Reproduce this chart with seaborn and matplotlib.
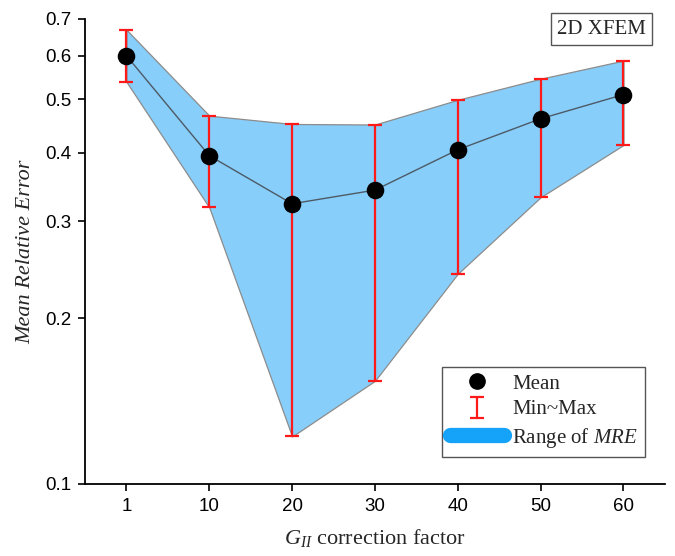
import numpy as np
import pandas as pd
import matplotlib
matplotlib.use('Agg')
import matplotlib.pyplot as plt
import seaborn as sns
from matplotlib.lines import Line2D

# values
factors = ['1', '10', '20', '30', '40', '50', '60']
mre_mean = [0.600, 0.395, 0.323, 0.342, 0.405, 0.461, 0.510]
mre_max = [0.669, 0.467, 0.451, 0.450, 0.499, 0.545, 0.588]
mre_min = [0.538, 0.318, 0.122, 0.154, 0.241, 0.332, 0.413]
y_ticks = [0.1, 0.2, 0.3, 0.4, 0.5, 0.6, 0.7]

df = pd.DataFrame({'factor': factors, 'mean': mre_mean,
                   'max': mre_max, 'min': mre_min})
df['pos'] = np.arange(len(df))

sns.set_style('ticks')
plt.rcParams['font.family'] = ['Liberation Sans', 'DejaVu Sans']
plt.rcParams['mathtext.fontset'] = 'custom'
plt.rcParams['mathtext.rm'] = 'Liberation Serif'
plt.rcParams['mathtext.it'] = 'Liberation Serif:italic'

serif = ['Liberation Serif', 'DejaVu Serif']

fig = plt.figure(figsize=(6.75, 5.56), dpi=100)
ax = fig.add_axes([0.126, 0.1295, 0.859, 0.8365])

# shaded min-max range
ax.fill_between(df['pos'], df['min'], df['max'], facecolor='#87CEFA',
                edgecolor='#8c8c8c', linewidth=0.9, zorder=1)

# mean line
sns.lineplot(data=df, x='pos', y='mean', color='#4d5a66', linewidth=1.0,
             ax=ax, zorder=2)

# min~max error bars
lower = df['mean'] - df['min']
upper = df['max'] - df['mean']
eb = ax.errorbar(df['pos'], df['mean'], yerr=[lower, upper], fmt='none',
                 ecolor='#ff1a1a', elinewidth=1.6, capsize=5, capthick=1.6,
                 zorder=3)

# mean markers
sns.scatterplot(data=df, x='pos', y='mean', color='black', s=160,
                edgecolor='black', linewidth=0, ax=ax, zorder=4)

ax.set_yscale('log')
ax.set_ylim(0.1, 0.7)
ax.set_xlim(-0.5, 6.5)
ax.set_yticks(y_ticks)
ax.set_yticklabels([f'{t:.1f}' for t in y_ticks])
ax.yaxis.set_minor_locator(matplotlib.ticker.NullLocator())
ax.set_xticks(df['pos'])
ax.set_xticklabels(factors)
ax.tick_params(axis='both', direction='out', length=5, width=1.2,
               labelsize=13.5, color='black', labelcolor='black', pad=5)

for side in ['top', 'right']:
    ax.spines[side].set_visible(False)
for side in ['left', 'bottom']:
    ax.spines[side].set_linewidth(1.3)
    ax.spines[side].set_color('black')

ax.set_xlabel(r'$G_{II}$ correction factor', family=serif, fontsize=16,
              labelpad=9)
ax.set_ylabel('Mean Relative Error', family=serif, style='italic',
              fontsize=16, labelpad=7)

ax.text(0.891, 0.978, '2D XFEM', transform=ax.transAxes, ha='center',
        va='center', family=serif, fontsize=15,
        bbox=dict(boxstyle='square,pad=0.3', facecolor='white',
                  edgecolor='#555555', linewidth=1.0))

# legend
h_mean = Line2D([], [], marker='o', color='black', linestyle='none',
                markersize=11)
h_range = Line2D([], [], color='#14A3F9', linewidth=11,
                 solid_capstyle='round')
leg = ax.legend([h_mean, eb, h_range],
                ['Mean', 'Min~Max', 'Range of $\\mathit{MRE}$'],
                loc='lower right', bbox_to_anchor=(0.966, 0.058),
                borderaxespad=0, fancybox=False, framealpha=1,
                edgecolor='#555555', prop={'family': serif, 'size': 15},
                handlelength=2.6, labelspacing=0.3, borderpad=0.35,
                handletextpad=0.4)
leg.get_frame().set_linewidth(1.0)

fig.savefig('out.png', dpi=100)
